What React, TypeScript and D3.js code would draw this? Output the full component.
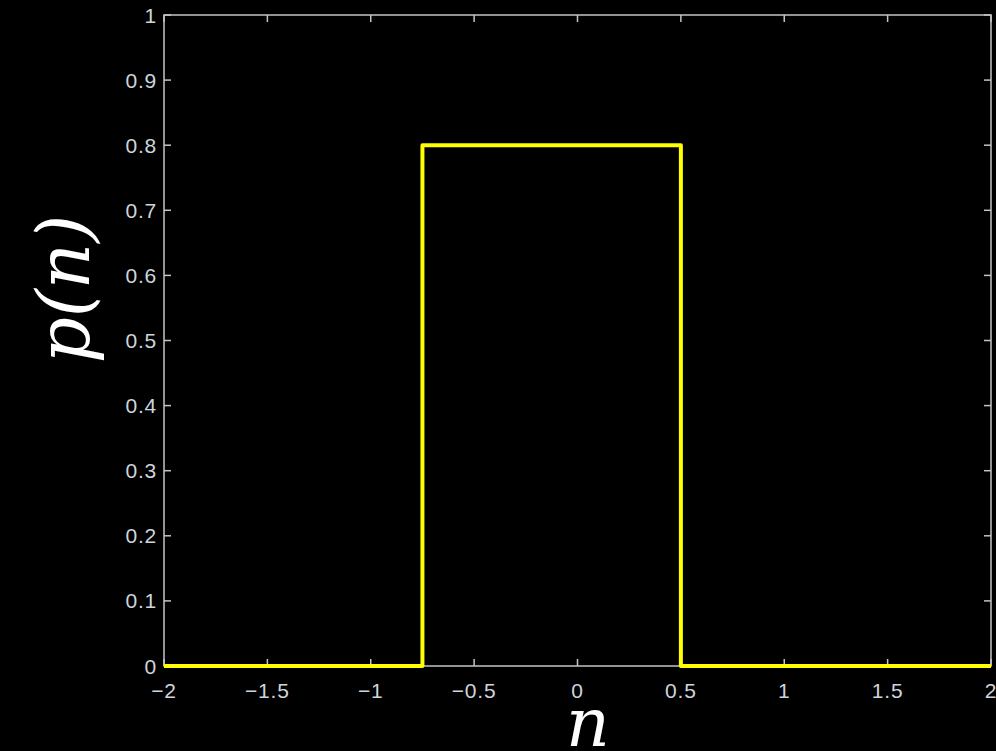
import React from "react";
import * as d3 from "d3";

// pulse: p(n) = 0.8 on [-0.75, 0.5], else 0
const nValues = [-2, -0.75, -0.75, 0.5, 0.5, 2];
const pValues = [0, 0, 0.8, 0.8, 0, 0];

const xTicks = [-2, -1.5, -1, -0.5, 0, 0.5, 1, 1.5, 2];
const yTicks = [0, 0.1, 0.2, 0.3, 0.4, 0.5, 0.6, 0.7, 0.8, 0.9, 1];

const W = 996;
const H = 751;
const left = 164;
const right = 991;
const top = 15;
const bottom = 666;

const App = () => {
  const x = d3.scaleLinear().domain([-2, 2]).range([left, right]);
  const y = d3.scaleLinear().domain([0, 1]).range([bottom, top]);

  const line = d3
    .line<number>()
    .x((d, i) => x(nValues[i]))
    .y(d => y(d));

  const axisCol = "#c4c4c4";
  const labelCol = "#cdd5dd";
  const tickLen = 7;
  const fmt = (v: number) => (v < 0 ? "\u2212" + Math.abs(v) : String(v));

  return (
    <svg
      width={W}
      height={H}
      style={{ position: "absolute", left: 0, top: 0, background: "#000" }}
    >
      <rect x={0} y={0} width={W} height={H} fill="#000" />

      {/* box */}
      <rect
        x={left}
        y={top}
        width={right - left}
        height={bottom - top}
        fill="none"
        stroke={axisCol}
        strokeWidth={1.5}
      />

      {/* x ticks, inside on top and bottom */}
      {xTicks.map(t => (
        <g key={"x" + t}>
          <line x1={x(t)} x2={x(t)} y1={bottom} y2={bottom - tickLen} stroke={axisCol} strokeWidth={1.5} />
          <line x1={x(t)} x2={x(t)} y1={top} y2={top + tickLen} stroke={axisCol} strokeWidth={1.5} />
          <text
            x={x(t)}
            y={698}
            fill={labelCol}
            fontFamily="Liberation Sans, Arial, sans-serif"
            fontSize={21}
            letterSpacing={0.8}
            textAnchor="middle"
          >
            {fmt(t)}
          </text>
        </g>
      ))}

      {/* y ticks */}
      {yTicks.map(t => (
        <g key={"y" + t}>
          <line x1={left} x2={left + tickLen} y1={y(t)} y2={y(t)} stroke={axisCol} strokeWidth={1.5} />
          <line x1={right} x2={right - tickLen} y1={y(t)} y2={y(t)} stroke={axisCol} strokeWidth={1.5} />
          <text
            x={157}
            y={y(t)}
            dy="0.36em"
            fill={labelCol}
            fontFamily="Liberation Sans, Arial, sans-serif"
            fontSize={21}
            letterSpacing={0.8}
            textAnchor="end"
          >
            {String(t)}
          </text>
        </g>
      ))}

      <path
        d={line(pValues) || ""}
        fill="none"
        stroke="#ffff00"
        strokeWidth={4}
        strokeLinejoin="round"
      />

      {/* axis labels */}
      <text
        x={588}
        y={746}
        fill="#fff"
        fontFamily="DejaVu Serif, serif"
        fontStyle="italic"
        fontSize={68}
        textAnchor="middle"
      >
        n
      </text>
      <text
        transform="translate(89,289) rotate(-90)"
        fill="#fff"
        fontFamily="DejaVu Serif, serif"
        fontStyle="italic"
        fontSize={72}
        textAnchor="middle"
      >
        p(n)
      </text>
    </svg>
  );
};

export default App;
